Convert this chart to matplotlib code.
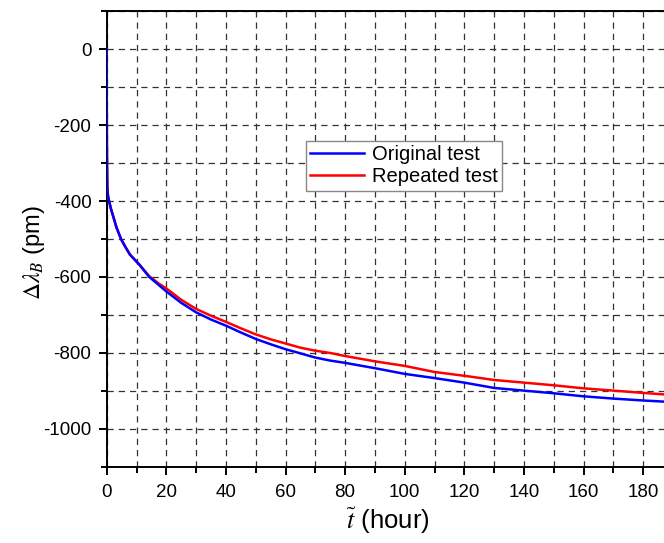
import matplotlib
matplotlib.use("Agg")
import matplotlib.pyplot as plt
from matplotlib.ticker import MultipleLocator

plt.rcParams["font.family"] = ["Liberation Sans", "DejaVu Sans"]
plt.rcParams["mathtext.fontset"] = "stix"
plt.rcParams["axes.unicode_minus"] = False

# values
t_orig = [0, 0.02, 0.05, 0.1, 0.2, 0.4, 0.8, 1.4, 2.2, 3.3, 4.8, 6.2, 7.8, 10.9,
          14.3, 17.6, 20, 25, 30, 35, 40, 45, 50, 55, 60, 65, 70, 75, 80, 90,
          100, 110, 120, 130, 140, 150, 160, 170, 180, 187]
dl_orig = [0, -150, -240, -300, -362, -385, -400, -420, -441, -470, -500, -520,
           -541, -567, -600, -622, -638, -668, -693, -712, -728, -746, -763,
           -777, -790, -801, -812, -820, -826, -840, -855, -866, -878, -892,
           -899, -906, -914, -920, -925, -928]

t_rep = [0, 0.02, 0.05, 0.1, 0.2, 0.4, 0.8, 1.4, 2.2, 3.3, 4.8, 6.2, 7.8, 10.9,
         14.3, 17.6, 20, 25, 30, 35, 40, 45, 50, 55, 60, 65, 70, 75, 80, 90,
         100, 110, 120, 130, 140, 150, 160, 170, 180, 187]
dl_rep = [0, -150, -240, -300, -362, -385, -400, -420, -441, -470, -500, -520,
          -541, -567, -598, -618, -630, -660, -684, -702, -718, -735, -751,
          -764, -775, -786, -794, -800, -808, -822, -834, -850, -860, -871,
          -878, -885, -893, -899, -905, -909]

fig = plt.figure(figsize=(6.64, 5.43), dpi=100)
ax = fig.add_axes([0.1607, 0.140, 0.8393, 0.8397])

ax.plot(t_rep, dl_rep, color="#ff0000", lw=1.8, label="Repeated test", zorder=3)
ax.plot(t_orig, dl_orig, color="#0000ff", lw=1.8, label="Original test", zorder=4)

ax.set_xlim(0, 187)
ax.set_ylim(-1100, 100)
ax.xaxis.set_major_locator(MultipleLocator(20))
ax.xaxis.set_minor_locator(MultipleLocator(10))
ax.yaxis.set_major_locator(MultipleLocator(200))
ax.yaxis.set_minor_locator(MultipleLocator(100))

ax.grid(True, which="both", color="#333333", lw=0.9, linestyle=(0, (5, 4)))
ax.set_axisbelow(True)

for side in ["left", "bottom", "top"]:
    ax.spines[side].set_linewidth(1.4)
ax.spines["right"].set_visible(False)
ax.tick_params(which="both", direction="out", width=1.4, labelsize=13.5,
               top=False, right=False)
ax.tick_params(which="major", length=6)
ax.tick_params(axis="x", which="major", pad=6)
ax.tick_params(axis="y", which="major", pad=5)
ax.tick_params(which="minor", length=4)

ax.set_xlabel(r"$\tilde{t}$ (hour)", fontsize=18.5)
ax.xaxis.set_label_coords(0.505, -0.085)
ax.set_ylabel(r"$\Delta\lambda_B$ (pm)", fontsize=17)
ax.yaxis.set_label_coords(-0.108, 0.47)

h, l = ax.get_legend_handles_labels()
leg = ax.legend(h[::-1], l[::-1], loc="upper left", bbox_to_anchor=(0.357, 0.716),
                fontsize=14.5, frameon=True, fancybox=False, handlelength=2.7,
                borderpad=0.22, labelspacing=0.17, handletextpad=0.35,
                borderaxespad=0)
leg.get_frame().set_edgecolor("#888888")
leg.get_frame().set_linewidth(1.0)
leg.get_frame().set_alpha(1)

fig.savefig("out.png", dpi=100)
